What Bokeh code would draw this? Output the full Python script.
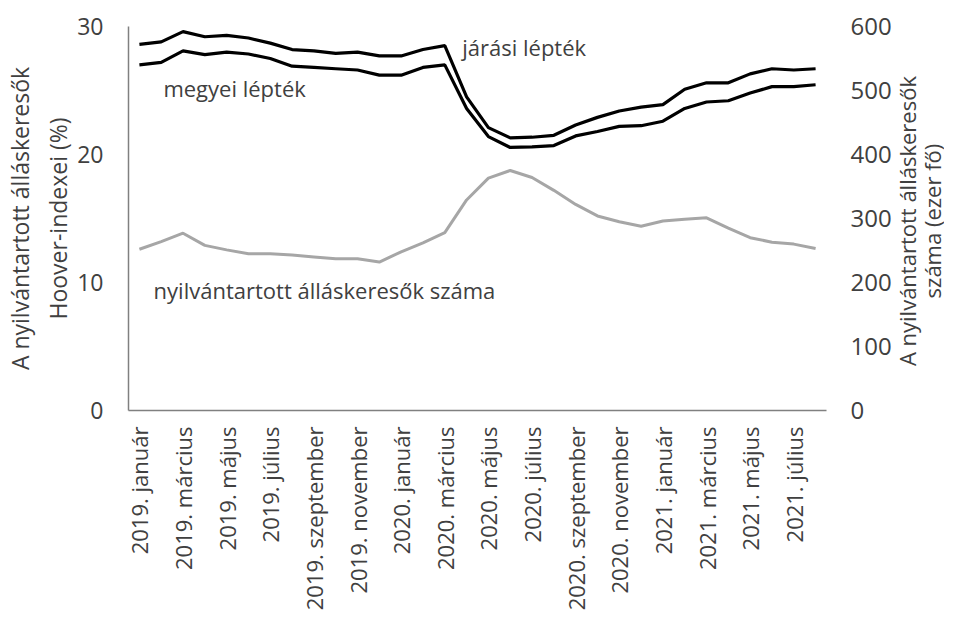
import math
from bokeh.plotting import figure
from bokeh.layouts import row
from bokeh.models import Range1d, LinearAxis, FixedTicker, Label, ColumnDataSource
from bokeh.embed import file_html
from bokeh.resources import INLINE

years = ["2019"] * 12 + ["2020"] * 12 + ["2021"] * 8
month_names = ["január", "február", "március", "április", "május", "június",
               "július", "augusztus", "szeptember", "október", "november", "december"]
months = [f"{y}. {month_names[i % 12]}" for i, y in enumerate(years)]

jarasi = [28.6, 28.8, 29.6, 29.2, 29.3, 29.1, 28.7, 28.2, 28.1, 27.9, 28.0, 27.7,
          27.7, 28.2, 28.5, 24.5, 22.1, 21.3, 21.35, 21.5, 22.3, 22.9, 23.4, 23.7,
          23.9, 25.1, 25.6, 25.6, 26.3, 26.7, 26.6, 26.7]
megyei = [27.0, 27.2, 28.1, 27.8, 28.0, 27.85, 27.5, 26.9, 26.8, 26.7, 26.6, 26.2,
          26.2, 26.8, 27.0, 23.6, 21.4, 20.55, 20.6, 20.7, 21.45, 21.8, 22.2, 22.25,
          22.6, 23.6, 24.1, 24.2, 24.8, 25.3, 25.3, 25.45]
allaskeresok = [252, 264, 277, 258, 251, 245, 245, 243, 240, 237, 237, 232,
                248, 262, 278, 329, 363, 375, 364, 344, 322, 304, 295, 288,
                296, 299, 301, 285, 270, 263, 260, 253]

left_ticks = [0, 10, 20, 30]
right_ticks = [0, 100, 200, 300, 400, 500, 600]

FONT = "Open Sans"
TXT = "#404040"
AX = "#808080"
H = 613

idx = list(range(len(months)))
src = ColumnDataSource(dict(x=idx, jarasi=jarasi, megyei=megyei, n=allaskeresok))

fig = figure(width=894, height=H, output_backend="svg", toolbar_location=None,
             x_range=Range1d(-0.5, len(months) - 0.5), y_range=Range1d(0, 30),
             min_border_left=126, min_border_right=68, min_border_top=26,
             min_border_bottom=203)
fig.outline_line_color = None
fig.grid.grid_line_color = None
fig.background_fill_color = "white"
fig.border_fill_color = "white"

fig.extra_y_ranges = {"right": Range1d(0, 600)}

fig.line("x", "n", source=src, y_range_name="right", line_color="#a6a6a6", line_width=3)
fig.line("x", "megyei", source=src, line_color="black", line_width=3.2)
fig.line("x", "jarasi", source=src, line_color="black", line_width=3.2)

# x axis
xa = fig.xaxis[0]
xa.ticker = FixedTicker(ticks=idx[::2])
xa.major_label_overrides = {i: months[i] for i in idx[::2]}
xa.major_label_orientation = math.pi / 2
xa.major_tick_line_color = None
xa.minor_tick_line_color = None
xa.axis_line_color = AX
xa.axis_line_width = 1.5
xa.major_label_text_font = FONT
xa.major_label_text_font_size = "22px"
xa.major_label_text_color = TXT
xa.major_label_standoff = 10

# left axis
ya = fig.yaxis[0]
ya.ticker = FixedTicker(ticks=left_ticks)
ya.major_tick_line_color = None
ya.minor_tick_line_color = None
ya.axis_line_color = AX
ya.axis_line_width = 1.5
ya.major_label_text_font = FONT
ya.major_label_text_font_size = "23px"
ya.major_label_text_color = TXT
ya.major_label_standoff = 19
ya.axis_label = "A nyilvántartott álláskeresők\nHoover-indexei (%)"
ya.axis_label_text_font = FONT
ya.axis_label_text_font_size = "23px"
ya.axis_label_text_font_style = "normal"
ya.axis_label_text_color = TXT
ya.axis_label_standoff = 0

ra = LinearAxis(y_range_name="right", ticker=FixedTicker(ticks=right_ticks))
ra.axis_line_color = None
ra.major_tick_line_color = None
ra.minor_tick_line_color = None
ra.major_label_text_font = FONT
ra.major_label_text_font_size = "24px"
ra.major_label_text_color = TXT
ra.major_label_standoff = 18
fig.add_layout(ra, "right")

labels = [("megyei lépték", 1.1, 25.2),
          ("járási lépték", 14.8, 28.4),
          ("nyilvántartott álláskeresők száma", 0.65, 9.45)]
for t, x, y in labels:
    fig.add_layout(Label(x=x, y=y, text=t, text_font=FONT, text_font_size="22px",
                         text_color=TXT, text_baseline="middle", text_align="left"))

# right axis title in a narrow side panel (its frame is aligned with the main frame),
# reading bottom to top
SW = 50
side = figure(width=SW, height=H, output_backend="svg", toolbar_location=None,
              x_range=Range1d(0, SW), y_range=Range1d(0, 30),
              x_axis_location=None, y_axis_location=None,
              min_border_left=0, min_border_right=0, min_border_top=26, min_border_bottom=203)
side.outline_line_color = None
side.grid.grid_line_color = None
side.background_fill_color = "white"
side.border_fill_color = "white"
side.add_layout(Label(x=25, y=14.8, text="A nyilvántartott álláskeresők\nszáma (ezer fő)",
                      angle=math.pi / 2, text_font=FONT, text_font_size="22px",
                      text_line_height=0.85,
                      text_color=TXT, text_align="center", text_baseline="middle"))

p = row(fig, side)
open("out.html", "w").write(file_html(p, INLINE))
